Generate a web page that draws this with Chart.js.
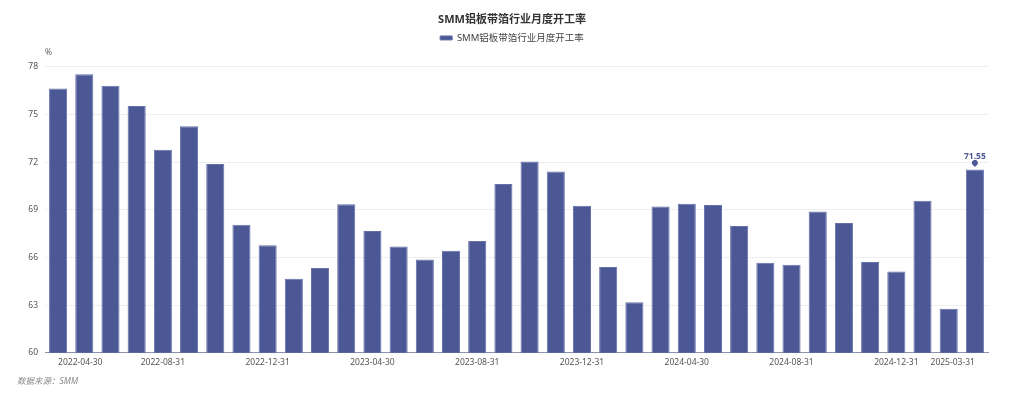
<!DOCTYPE html>
<html>
<head>
<meta charset="utf-8">
<script src="https://cdn.jsdelivr.net/npm/chart.js@4.4.1/dist/chart.umd.min.js"></script>
<style>
  html, body { margin: 0; padding: 0; background: #fff; }
  #wrap { width: 1024px; height: 399px; position: relative; }
</style>
</head>
<body>
<div id="wrap"><canvas id="c"></canvas></div>
<script>
const chartTitle = 'SMM铝板带箔行业月度开工率';
const seriesName = 'SMM铝板带箔行业月度开工率';
const sourceText = '数据来源：SMM';
const unitText = '%';

const categories = [
  '2022-04-30','2022-05-31','2022-06-30','2022-07-31','2022-08-31','2022-09-30',
  '2022-10-31','2022-11-30','2022-12-31','2023-01-31','2023-02-28','2023-03-31',
  '2023-04-30','2023-05-31','2023-06-30','2023-07-31','2023-08-31','2023-09-30',
  '2023-10-31','2023-11-30','2023-12-31','2024-01-31','2024-02-29','2024-03-31',
  '2024-04-30','2024-05-31','2024-06-30','2024-07-31','2024-08-31','2024-09-30',
  '2024-10-31','2024-11-30','2024-12-31','2025-01-31','2025-02-28','2025-03-31'
];
const values = [
  76.65, 77.54, 76.82, 75.54, 72.79, 74.26,
  71.89, 68.07, 66.78, 64.66, 65.34, 69.35,
  67.67, 66.70, 65.88, 66.43, 67.04, 70.63,
  72.04, 71.41, 69.26, 65.40, 63.19, 69.22,
  69.39, 69.31, 67.98, 65.67, 65.55, 68.90,
  68.17, 65.71, 65.12, 69.58, 62.77, 71.55
];
const shownTickLabels = [
  '2022-04-30','2022-08-31','2022-12-31','2023-04-30','2023-08-31',
  '2023-12-31','2024-04-30','2024-08-31','2024-12-31','2025-03-31'
];
const yTicks = [60, 63, 66, 69, 72, 75, 78];

const FONT = "'Noto Sans', 'Noto Sans CJK SC', sans-serif";
const BAR = '#4c5896';

const extras = {
  id: 'extras',
  afterDatasetsDraw(chart) {
    const ctx = chart.ctx;
    const meta = chart.getDatasetMeta(0);
    const last = meta.data[meta.data.length - 1];
    const v = values[values.length - 1];
    ctx.save();
    const x = last.x, y = last.y;
    ctx.fillStyle = BAR;
    ctx.beginPath();
    ctx.arc(x, y - 6.5, 3, Math.PI * 0.85, Math.PI * 2.15);
    ctx.lineTo(x, y - 2.5);
    ctx.closePath();
    ctx.fill();
    ctx.font = "bold 8.5px " + FONT;
    ctx.textAlign = 'center';
    ctx.textBaseline = 'middle';
    ctx.fillText(v.toFixed(2), x, y - 13);
    ctx.restore();
  },
  afterDraw(chart) {
    const ctx = chart.ctx;
    ctx.save();
    ctx.font = "italic 8.5px " + FONT;
    ctx.fillStyle = '#8a8a8a';
    ctx.textAlign = 'left';
    ctx.textBaseline = 'middle';
    ctx.fillText(sourceText, 17, 382);
    ctx.restore();
  }
};

new Chart(document.getElementById('c'), {
  type: 'bar',
  data: {
    labels: categories,
    datasets: [{
      label: seriesName,
      data: values,
      backgroundColor: BAR,
      borderColor: '#6570a9',
      borderWidth: 1,
      barPercentage: 0.69,
      categoryPercentage: 1.0
    }]
  },
  options: {
    responsive: true,
    maintainAspectRatio: false,
    animation: false,
    layout: { padding: { top: 13, left: 0, right: 0, bottom: 26 } },
    plugins: {
      title: {
        display: true,
        text: chartTitle,
        color: '#333',
        font: { family: FONT, size: 11, weight: 'bold', lineHeight: 1.2 },
        padding: { top: 0, bottom: 3 }
      },
      legend: {
        display: true,
        labels: {
          boxWidth: 12,
          boxHeight: 4,
          padding: 4,
          color: '#444',
          font: { family: FONT, size: 9.5 }
        }
      },
      subtitle: {
        display: true,
        text: unitText,
        position: 'top',
        align: 'start',
        fullSize: false,
        weight: 500,
        color: '#666',
        font: { family: FONT, size: 8.5, lineHeight: 1.2 },
        padding: { top: -4.85, bottom: 8.9 }
      },
      tooltip: { enabled: false }
    },
    scales: {
      x: {
        afterFit: s => { s.paddingRight = 36; },
        grid: { display: false, drawTicks: false },
        border: { display: true, color: '#8f94ad', width: 1 },
        ticks: {
          autoSkip: false,
          maxRotation: 0,
          minRotation: 0,
          align: 'inner',
          padding: 5,
          color: '#555',
          font: { family: FONT, size: 8.5 },
          callback: function (val, idx) {
            const lab = categories[idx];
            return shownTickLabels.includes(lab) ? lab : '';
          }
        }
      },
      y: {
        min: yTicks[0],
        max: yTicks[yTicks.length - 1],
        afterFit: s => { s.width = 45; },
        afterBuildTicks: s => { s.ticks = yTicks.map(v => ({ value: v })); },
        grid: { color: '#eeeeee', drawTicks: false },
        border: { display: false },
        ticks: {
          padding: 7,
          color: '#555',
          font: { family: FONT, size: 8.5 }
        }
      }
    }
  },
  plugins: [extras]
});
</script>
</body>
</html>
